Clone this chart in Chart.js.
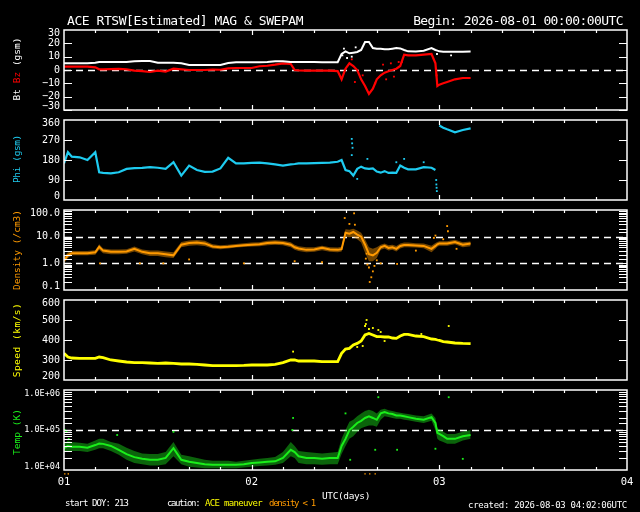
<!DOCTYPE html>
<html><head><meta charset="utf-8">
<script src="https://cdn.jsdelivr.net/npm/chart.js@4.4.1/dist/chart.umd.min.js"></script>
<style>
html,body{margin:0;padding:0;background:#000;}
#wrap{position:relative;width:640px;height:512px;overflow:hidden;background:#000;font-family:"DejaVu Sans Mono",monospace;color:#fff;}
canvas{position:absolute;left:0;top:0;}
.t{position:absolute;white-space:nowrap;line-height:1;}
.yt{position:absolute;white-space:nowrap;line-height:1;font-size:9.5px;transform:translate(-50%,-50%) rotate(-90deg);}
</style></head><body>
<div id="wrap">
<canvas id="c1" width="640" height="512"></canvas>
<canvas id="c2" width="640" height="512"></canvas>
<canvas id="c3" width="640" height="512"></canvas>
<canvas id="c4" width="640" height="512"></canvas>
<canvas id="c5" width="640" height="512"></canvas>
<div class="t" style="left:67px;top:14px;font-size:13px;letter-spacing:-0.45px">ACE RTSW[Estimated] MAG &amp; SWEPAM</div>
<div class="t" style="right:17px;top:14px;font-size:13px;letter-spacing:-0.59px">Begin: 2026-08-01 00:00:00UTC</div>
<div class="yt" style="left:17px;top:69px"><span style="color:#fff">Bt</span> <span style="color:#ff0000">Bz</span> <span style="color:#fff">(gsm)</span></div>
<div class="yt" style="left:17px;top:159px;color:#1ecbf0;letter-spacing:-0.4px">Phi (gsm)</div>
<div class="yt" style="left:17px;top:250px;color:#ff9a00">Density (/cm3)</div>
<div class="yt" style="left:17px;top:340px;color:#ffff00;letter-spacing:0.5px">Speed (km/s)</div>
<div class="yt" style="left:17px;top:432px;color:#1aee1a">Temp (K)</div>
<div class="t" style="left:322px;top:491px;font-size:9.5px;letter-spacing:-0.39px">UTC(days)</div>
<div class="t" style="left:65px;top:498.7px;font-size:9px;letter-spacing:-0.92px">start DOY: 213</div>
<div class="t" style="left:167px;top:498.7px;font-size:9px;letter-spacing:-1.4px">caution:</div>
<div class="t" style="left:205px;top:498.7px;font-size:9px;letter-spacing:-0.67px;color:#ffff00">ACE maneuver</div>
<div class="t" style="left:269px;top:498.7px;font-size:9px;letter-spacing:-1.24px;color:#ff9a00">density &lt; 1</div>
<div class="t" style="right:13px;top:500.7px;font-size:9px;letter-spacing:-0.29px">created: 2026-08-03 04:02:06UTC</div>
</div>
<script>
// ---- data (hours since 2026-08-01 00:00 UTC) ----
const dayLabels = ['01', '02', '03', '04'];
const hours = [0, 0.5, 1, 2, 3, 4, 4.5, 5,
  6, 7, 8, 9, 10, 11, 12, 13, 14, 15,
  16, 17, 18, 19, 20, 21, 22, 23, 24, 25,
  26, 27, 28, 29, 29.5, 30, 31, 32, 33, 34,
  35, 35.5, 36, 36.5, 37, 37.5, 38, 38.5, 39, 39.5,
  40, 40.5, 41, 41.5, 42, 42.5, 43, 43.5, 44, 45,
  46, 47, 47.5, 47.75, 48, 48.5, 49, 50, 51, 52];
const btValues = [5, 5, 5, 5, 5, 5.5, 6, 6,
  6, 6, 6, 6.5, 6.7, 6.7, 5.5, 5.5, 5.5, 5,
  3.7, 3.7, 3.7, 3.7, 3.7, 5.2, 5.8, 5.8, 5.8, 5.8,
  6, 6.5, 6.5, 6, 6, 6, 6, 6, 5.8, 5.8,
  5.8, 12, 14, 12.5, 13, 13.5, 15, 21, 21, 16.5,
  16, 16, 15.5, 15.5, 16, 16.5, 16.2, 15, 14, 13.8,
  14.5, 16.5, 15, 14.5, 14, 13.7, 13.7, 13.7, 13.7, 13.8];
const bzValues = [2.5, 2.5, 2.5, 2.5, 2.5, 2, 0.5, 0.5,
  0.7, 0.8, 0.5, -0.5, -0.8, -1.5, -0.5, -1.2, 1, 0.5,
  0, 0, 0, 0.3, 0.2, 1.2, 1.5, 1.5, 1.5, 2.8,
  3.2, 4, 5, 4.5, 0, -0.3, -0.5, -0.5, -0.5, -0.5,
  -0.8, -7, 1, 5, 3, 0, -7, -12, -18, -14,
  -7, -4, -2, -1, 0, 1, 3, 11.5, 11, 11,
  11.5, 12, 5, -12, -11, -10, -9, -7, -6, -6];
const phiValues = [165, 215, 195, 192, 180, 215, 125, 122,
  120, 125, 140, 143, 145, 148, 145, 140, 170, 110,
  155, 135, 127, 128, 142, 190, 165, 165, 167, 168,
  165, 160, 155, 160, 162, 165, 165, 166, 167, 168,
  172, 180, 135, 130, 110, 140, 150, 142, 140, 142,
  128, 123, 130, 122, 123, 122, 155, 145, 138, 138,
  148, 145, 135, null, 335, 325, 318, 305, 315, 322];
const densityValues = [1.3, 2.0, 2.4, 2.4, 2.4, 2.6, 4.2, 3.0,
  2.7, 2.7, 2.8, 3.5, 2.7, 2.4, 2.4, 2.2, 2.0, 5.0,
  5.8, 6.0, 5.6, 4.3, 4.0, 4.2, 4.5, 4.8, 5.0, 5.2,
  5.8, 6.0, 5.8, 5.0, 4.0, 3.6, 3.2, 3.3, 3.8, 3.3,
  3.2, 3.4, 14, 13, 15, 12, 10, 5, 2.2, 2.0,
  2.5, 4.0, 4.5, 3.8, 4.0, 3.5, 4.5, 4.9, 4.9, 4.7,
  4.5, 3.5, 4.5, 5.2, 5.6, 5.6, 5.6, 6.3, 5.0, 5.5];
// spread of the scattered density samples (lower / upper edge of the band)
const densityLow = [1.0, 1.6, 2.0, 2.0, 2.0, 2.1, 3.2, 2.4,
  2.2, 2.2, 2.3, 2.8, 2.2, 1.9, 1.9, 1.7, 1.6, 4.0,
  4.6, 4.8, 4.5, 3.6, 3.4, 3.6, 3.9, 4.1, 4.3, 4.4,
  4.8, 5.0, 4.8, 4.0, 3.2, 2.9, 2.6, 2.7, 3.1, 2.7,
  2.6, 2.8, 10, 9.5, 10, 8, 6, 2.5, 1.2, 1.2,
  1.6, 3.2, 3.6, 3.0, 3.2, 2.8, 3.6, 4.0, 4.0, 3.9,
  3.7, 2.6, 3.5, 4.2, 4.6, 4.6, 4.6, 5.2, 4.0, 4.4];
const densityHigh = [1.8, 2.6, 2.9, 2.9, 2.9, 3.1, 5.2, 3.6,
  3.3, 3.3, 3.4, 4.3, 3.3, 3.0, 3.0, 2.8, 2.6, 6.3,
  7.2, 7.5, 7.0, 5.2, 4.8, 5.0, 5.3, 5.7, 6.0, 6.2,
  7.0, 7.3, 7.0, 6.2, 5.0, 4.4, 4.0, 4.0, 4.6, 4.0,
  3.9, 4.2, 19, 18, 20, 17, 14, 8, 4, 3.5,
  4.0, 5.0, 5.5, 4.8, 5.0, 4.5, 5.6, 6.0, 6.0, 5.7,
  5.5, 4.6, 5.8, 6.3, 6.8, 6.8, 6.8, 7.6, 6.2, 6.6];
const speedValues = [333, 315, 310, 308, 308, 308, 315, 312,
  300, 295, 290, 287, 287, 285, 283, 285, 283, 280,
  280, 278, 275, 272, 272, 272, 272, 273, 275, 275,
  275, 278, 287, 300, 300, 295, 295, 295, 292, 292,
  292, 333, 355, 358, 375, 383, 395, 425, 433, 425,
  417, 417, 415, 415, 410, 408, 420, 428, 428, 420,
  417, 405, 403, 400, 398, 392, 390, 385, 383, 382];
const tempValues = [3.5e4, 4.0e4, 3.8e4, 3.8e4, 3.6e4, 4.2e4, 4.6e4, 4.5e4,
  4.0e4, 3.2e4, 2.5e4, 2.1e4, 1.9e4, 1.8e4, 1.8e4, 2.0e4, 3.5e4, 1.8e4,
  1.6e4, 1.5e4, 1.4e4, 1.35e4, 1.35e4, 1.35e4, 1.35e4, 1.4e4, 1.5e4, 1.55e4,
  1.6e4, 1.65e4, 2.0e4, 3.2e4, 2.8e4, 2.2e4, 2.0e4, 2.0e4, 1.9e4, 2.0e4,
  2.0e4, 4.0e4, 6.0e4, 1.0e5, 1.2e5, 1.5e5, 1.7e5, 2.0e5, 2.2e5, 2.0e5,
  1.8e5, 2.6e5, 2.8e5, 2.6e5, 2.5e5, 2.3e5, 2.3e5, 2.2e5, 2.1e5, 1.9e5,
  1.8e5, 2.1e5, 1.5e5, 8.5e4, 8.0e4, 7.0e4, 6.0e4, 6.0e4, 7.0e4, 7.5e4];
// spread of the scattered temperature samples (lower / upper edge of the band)
const tempLow = [2.8e4, 3.0e4, 3.0e4, 3.0e4, 2.8e4, 3.2e4, 3.5e4, 3.5e4,
  3.0e4, 2.4e4, 1.8e4, 1.5e4, 1.4e4, 1.3e4, 1.3e4, 1.4e4, 2.2e4, 1.4e4,
  1.2e4, 1.15e4, 1.1e4, 1.1e4, 1.1e4, 1.1e4, 1.1e4, 1.15e4, 1.2e4, 1.25e4,
  1.3e4, 1.35e4, 1.5e4, 2.2e4, 2.0e4, 1.5e4, 1.4e4, 1.4e4, 1.35e4, 1.4e4,
  1.4e4, 2.5e4, 4.0e4, 6.0e4, 7.0e4, 9.0e4, 1.1e5, 1.2e5, 1.3e5, 1.3e5,
  1.2e5, 1.8e5, 2.2e5, 2.1e5, 2.0e5, 1.9e5, 1.9e5, 1.8e5, 1.75e5, 1.6e5,
  1.5e5, 1.7e5, 1.0e5, 6.0e4, 5.5e4, 5.0e4, 4.5e4, 4.5e4, 5.5e4, 6.0e4];
const tempHigh = [4.5e4, 5.5e4, 5.0e4, 4.8e4, 4.5e4, 5.5e4, 6.0e4, 6.0e4,
  5.0e4, 4.5e4, 3.6e4, 3.0e4, 2.6e4, 2.5e4, 2.5e4, 2.8e4, 5.0e4, 2.4e4,
  2.2e4, 2.0e4, 1.8e4, 1.7e4, 1.7e4, 1.7e4, 1.6e4, 1.7e4, 1.8e4, 1.9e4,
  2.0e4, 2.1e4, 2.8e4, 5.0e4, 4.0e4, 3.0e4, 2.8e4, 2.7e4, 2.6e4, 2.7e4,
  2.8e4, 6.0e4, 1.0e5, 1.6e5, 1.8e5, 2.2e5, 2.6e5, 3.0e5, 3.2e5, 3.0e5,
  2.6e5, 3.2e5, 3.4e5, 3.1e5, 3.0e5, 2.8e5, 2.7e5, 2.6e5, 2.5e5, 2.3e5,
  2.2e5, 2.6e5, 2.0e5, 1.1e5, 1.05e5, 9.0e4, 8.0e4, 8.0e4, 9.0e4, 1.0e5];

// isolated samples off the main traces
const btDotsH = [35.6, 35.8, 36.2, 36.8, 37.3, 47.7, 49.5];
const btDotsV = [11, 16, 9, 10, 17, 12, 11];
const bzDotsH = [36.8, 37.2, 38.2, 39.8, 40.8, 41.2, 41.8, 42.2, 42.8, 43.2, 47.6, 47.65];
const bzDotsV = [8, -9, -4, -10, 4, -7, 5, -5, 6, 6, 0, -4];
const phiDotsH = [36.8, 36.85, 36.9, 36.8, 37.5, 38.8, 42.5, 43.5, 46, 47.6, 47.62, 47.65, 47.68];
const phiDotsV = [275, 255, 235, 202, 95, 185, 170, 185, 170, 90, 70, 55, 40];
const densityDotsH = [4.6, 9.7, 12.7, 16, 23, 29.5, 33, 35.9, 36.5, 37.1, 37.2, 38.6, 38.7, 38.8, 39, 39.1, 39.3, 39.5, 39.7, 40, 40.5, 42.6, 45, 47.3, 47.5, 48.5, 49, 49.1, 50.2];
const densityDotsV = [1.0, 1.0, 1.0, 1.4, 1.0, 1.2, 1.1, 50, 30, 75, 28, 1.5, 2.3, 0.9, 0.7, 0.2, 0.3, 0.5, 0.8, 1.3, 1.0, 0.95, 3.0, 9, 11, 8, 25, 16, 3.5];
const speedDotsH = [29.3, 37.5, 38.2, 38.5, 38.6, 38.7, 39.0, 39.5, 40.2, 40.5, 41.0, 45.7, 49.2];
const speedDotsV = [342, 365, 370, 470, 480, 500, 455, 460, 450, 440, 395, 430, 470];
const tempDotsH = [0.1, 0.3, 0.6, 6.8, 14, 29.2, 29.3, 36, 36.6, 39.8, 40.2, 42.6, 47.5, 49.2, 51];
const tempDotsV = [1e5, 9e4, 6e4, 7.5e4, 9e4, 1e5, 2e5, 2.6e5, 1.8e4, 3.2e4, 6.6e5, 3.2e4, 3.4e4, 6.6e5, 1.9e4];
const lowDensityHours = [0.1, 0.55, 38.5, 39.1, 39.8];

// ---- rendering ----
const FONT = '"DejaVu Sans Mono", monospace';
const PLOT_LEFT = 64, PLOT_RIGHT = 627, W = 640, H = 512, XAXIS_H = 24;
const COL = {bt:'#ffffff', bz:'#ff0000', phi:'#1ecbf0', den:'#ff9a00', spd:'#ffff00', tmp:'#1aee1a'};

const idlFrame = {
  id: 'idlFrame',
  beforeDatasetsDraw(chart, args, o) {
    const {ctx, chartArea: a} = chart; const y = chart.scales.y;
    ctx.save();
    ctx.strokeStyle = '#fff'; ctx.lineWidth = 1.5; ctx.setLineDash([7, 5]);
    (o.dashed || []).forEach(v => {
      const py = Math.round(y.getPixelForValue(v)) + 0.5;
      ctx.beginPath(); ctx.moveTo(a.left, py); ctx.lineTo(a.right, py); ctx.stroke();
    });
    ctx.restore();
  },
  afterDatasetsDraw(chart) {
    const {ctx, chartArea: a} = chart; const x = chart.scales.x, y = chart.scales.y;
    ctx.save();
    ctx.strokeStyle = '#fff'; ctx.lineWidth = 1.5; ctx.setLineDash([]);
    ctx.strokeRect(a.left, a.top, a.right - a.left, a.bottom - a.top);
    ctx.lineWidth = 1.2;
    ctx.beginPath();
    y.ticks.forEach(t => {
      if (t.value <= y.min * 1.0000001 || t.value >= y.max * 0.9999999) return;
      const py = Math.round(y.getPixelForValue(t.value)) + 0.5;
      ctx.moveTo(a.left, py); ctx.lineTo(a.left + 8, py);
      ctx.moveTo(a.right, py); ctx.lineTo(a.right - 8, py);
    });
    x.ticks.forEach(t => {
      if (t.value <= x.min || t.value >= x.max) return;
      const px = Math.round(x.getPixelForValue(t.value)) + 0.5;
      const len = t.value % 24 === 0 ? 5 : 3;
      ctx.moveTo(px, a.top); ctx.lineTo(px, a.top + len);
      ctx.moveTo(px, a.bottom); ctx.lineTo(px, a.bottom - len);
    });
    ctx.stroke();
    ctx.restore();
  }
};
Chart.register(idlFrame);

function pts(h, v) { return h.map((x, i) => ({x, y: v[i]})); }
function lineSet(label, h, v, color, width) {
  return {type: 'line', label, data: pts(h, v), showLine: true, borderColor: color, borderWidth: width,
    pointRadius: 0, spanGaps: false, tension: 0, fill: false};
}
function bandSet(label, h, lo, hi, fillColor) {
  return [
    {type: 'line', label: label + ' low', data: pts(h, lo), borderWidth: 0, borderColor: 'rgba(0,0,0,0)',
      pointRadius: 0, tension: 0, fill: false},
    {type: 'line', label: label + ' high', data: pts(h, hi), borderWidth: 0, borderColor: 'rgba(0,0,0,0)',
      backgroundColor: fillColor, pointRadius: 0, tension: 0, fill: '-1'}
  ];
}
function dotSet(label, h, v, color, extra) {
  return Object.assign({label, data: pts(h, v), showLine: false, pointRadius: 1.3, pointStyle: 'rect',
    backgroundColor: color, borderColor: color, borderWidth: 0}, extra || {});
}
function near(a, b) { return Math.abs(a - b) <= Math.abs(b) * 1e-6 + 1e-9; }
function endLabel(v, min, max, s) {
  if (near(v, max)) return ['', s];
  if (near(v, min)) return [s, ''];
  return s;
}
function isPow10(v) { const l = Math.log10(v); return Math.abs(l - Math.round(l)) < 1e-6; }
function signed(v) { return v < 0 ? '\u2212' + Math.abs(v) : String(v); }

function linearY(min, max, step, fmt) {
  return {type: 'linear', min, max,
    ticks: {stepSize: step, autoSkip: false, color: '#fff', padding: 4,
      font: {family: FONT, size: 10, lineHeight: 0.7},
      callback: v => endLabel(v, min, max, fmt(v))}};
}
function logY(min, max, fmt, size, lh) {
  return {type: 'logarithmic', min, max,
    ticks: {autoSkip: false, color: '#fff', padding: 4,
      font: {family: FONT, size, lineHeight: lh},
      callback: v => isPow10(v) ? endLabel(v, min, max, fmt(v)) : ''}};
}

function makePanel(id, top, bottom, yScale, datasets, dashed, showX) {
  return new Chart(document.getElementById(id), {
    type: 'scatter',
    data: {datasets},
    options: {
      responsive: false, animation: false, events: [],
      layout: {padding: {left: 0, right: W - PLOT_RIGHT, top, bottom: H - bottom - XAXIS_H}},
      plugins: {legend: {display: false}, tooltip: {enabled: false}, idlFrame: {dashed}, filler: {propagate: false}},
      scales: {
        x: {type: 'linear', min: 0, max: 72,
          grid: {display: false, drawTicks: false}, border: {display: false},
          ticks: {display: showX, stepSize: 4, autoSkip: false, maxRotation: 0, minRotation: 0,
            padding: 6, color: '#fff', font: {family: FONT, size: 10.5},
            callback: v => v % 24 === 0 ? dayLabels[v / 24] : ''},
          afterFit: s => { s.height = XAXIS_H; s.paddingLeft = 0; s.paddingRight = 0; }},
        y: Object.assign({position: 'left', grid: {display: false, drawTicks: false}, border: {display: false},
          afterFit: s => { s.width = PLOT_LEFT; s.paddingTop = 0; s.paddingBottom = 0; }}, yScale)
      }
    }
  });
}

makePanel('c1', 30, 110, linearY(-30, 30, 10, signed), [
  lineSet('Bt', hours, btValues, COL.bt, 2),
  dotSet('Bt samples', btDotsH, btDotsV, COL.bt),
  lineSet('Bz', hours, bzValues, COL.bz, 2.2),
  dotSet('Bz samples', bzDotsH, bzDotsV, COL.bz)
], [0], false);

makePanel('c2', 120, 200, linearY(0, 360, 90, v => String(v)), [
  lineSet('Phi', hours, phiValues, COL.phi, 2.2),
  dotSet('Phi samples', phiDotsH, phiDotsV, COL.phi)
], [], false);

makePanel('c3', 210, 290, logY(0.1, 100, v => v.toFixed(1), 10, 0.7), [
  ...bandSet('Density spread', hours, densityLow, densityHigh, 'rgba(255,154,0,0.45)'),
  lineSet('Density', hours, densityValues, COL.den, 2),
  dotSet('Density samples', densityDotsH, densityDotsV, COL.den)
], [1, 10], false);

makePanel('c4', 300, 380, linearY(200, 600, 100, v => String(v)), [
  lineSet('Speed', hours, speedValues, COL.spd, 2.8),
  dotSet('Speed samples', speedDotsH, speedDotsV, COL.spd)
], [], false);

makePanel('c5', 390, 470, logY(1e4, 1e6, v => '1.0E+0' + Math.round(Math.log10(v)), 8.5, 0.8), [
  ...bandSet('Temp spread', hours, tempLow, tempHigh, 'rgba(26,238,26,0.42)'),
  lineSet('Temp', hours, tempValues, COL.tmp, 2),
  dotSet('Temp samples', tempDotsH, tempDotsV, COL.tmp),
  dotSet('density < 1', lowDensityHours, lowDensityHours.map(() => 8e3), COL.den, {clip: false, pointRadius: 1})
], [1e5], true);
</script>
</body></html>
